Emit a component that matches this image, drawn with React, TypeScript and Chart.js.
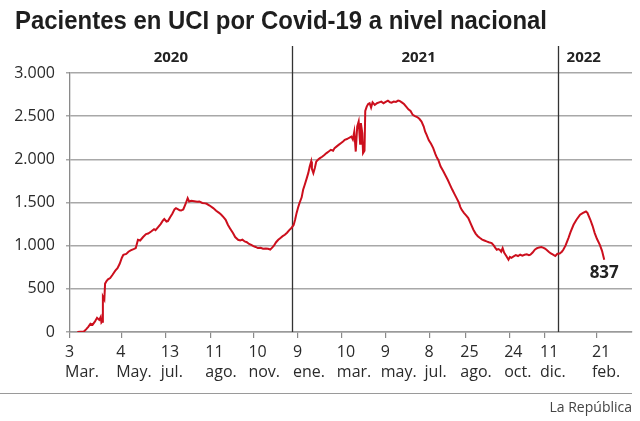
import React, { useEffect, useRef } from "react";
import { Chart, registerables } from "chart.js";

Chart.register(...registerables);

// Days counted from 3 March 2020 (day 0)
const days = [
  10, 14, 19, 22, 25, 28, 31, 34, 37, 40, 42, 43, 44, 45, 47, 48, 50, 52, 55, 58,
  62, 65, 68, 71, 73, 77, 80, 83, 87, 90, 93, 96, 100, 104, 107, 111, 115, 117, 120, 124,
  127, 129, 132, 134, 137, 140, 143, 145, 148, 150, 152, 155, 158, 161, 163, 166, 170, 174, 177, 181,
  185, 187, 191, 196, 200, 204, 207, 210, 213, 216, 219, 223, 226, 230, 233, 236, 239, 242, 245, 248,
  251, 254, 257, 261, 264, 268, 271, 274, 276, 279, 282, 285, 288, 291, 294, 297, 300, 303, 306, 308,
  310, 312, 314, 317, 319, 321, 324, 326, 328, 330, 331, 333, 335, 337, 340, 342, 345, 348, 351, 354,
  357, 360, 362, 365, 368, 371, 374, 376, 379, 382, 385, 387, 389, 391, 393, 395, 397, 398, 400, 401,
  403, 404, 406, 408, 410, 412, 414, 417, 420, 423, 426, 429, 432, 435, 438, 440, 443, 446, 449, 451,
  454, 457, 460, 463, 466, 469, 472, 475, 478, 481, 484, 486, 488, 491, 494, 497, 500, 502, 504, 507,
  511, 514, 517, 520, 523, 526, 529, 532, 534, 536, 539, 542, 545, 548, 552, 555, 558, 561, 564, 567,
  570, 573, 577, 580, 582, 584, 586, 588, 590, 592, 594, 597, 600, 602, 604, 607, 610, 613, 616, 619,
  622, 625, 628, 630, 633, 636, 639, 642, 645, 648, 650, 652, 655, 658, 661, 664, 667, 670, 673, 675,
  678, 682, 685, 689, 693, 698, 702, 706, 708, 712, 715, 718, 721, 725, 728, 731,
];

const icuPatients = [
  0, 2, 5, 30, 60, 96, 85, 120, 165, 140, 175, 110, 120, 410, 375, 560, 590, 610, 625, 660,
  710, 740, 790, 860, 895, 905, 930, 945, 960, 972, 1068, 1060, 1100, 1134, 1140, 1164, 1190, 1180, 1210, 1250,
  1290, 1308, 1280, 1285, 1330, 1370, 1420, 1435, 1420, 1410, 1407, 1420, 1480, 1551, 1512, 1520, 1515, 1508, 1512, 1495,
  1490, 1485, 1465, 1435, 1405, 1380, 1358, 1330, 1300, 1242, 1200, 1146, 1100, 1068, 1060, 1070, 1049, 1040, 1020, 1010,
  995, 985, 972, 975, 965, 968, 964, 955, 972, 1000, 1040, 1068, 1090, 1110, 1126, 1150, 1180, 1204, 1240, 1300,
  1377, 1440, 1493, 1560, 1647, 1700, 1782, 1840, 1917, 1975, 1890, 1840, 1900, 1975, 2000, 2014, 2030, 2050, 2072, 2090,
  2110, 2100, 2130, 2150, 2170, 2190, 2210, 2226, 2235, 2250, 2264, 2230, 2320, 2090, 2380, 2438, 2180, 2420, 2300, 2072,
  2100, 2560, 2611, 2640, 2650, 2600, 2660, 2630, 2650, 2660, 2669, 2650, 2665, 2680, 2660, 2657, 2670, 2665, 2680, 2677,
  2660, 2640, 2611, 2580, 2560, 2515, 2500, 2490, 2470, 2438, 2380, 2320, 2284, 2220, 2180, 2130, 2060, 2020, 1994, 1920,
  1859, 1810, 1760, 1705, 1650, 1600, 1551, 1500, 1450, 1415, 1380, 1350, 1319, 1260, 1184, 1140, 1110, 1088, 1070, 1060,
  1049, 1040, 1030, 1000, 975, 953, 960, 953, 930, 972, 920, 880, 837, 870, 860, 875, 890, 880, 895, 885,
  895, 900, 890, 895, 920, 953, 970, 980, 984, 975, 965, 953, 930, 910, 895, 880, 906, 910, 930, 953,
  1000, 1088, 1160, 1242, 1300, 1358, 1380, 1396, 1380, 1300, 1230, 1146, 1080, 1010, 940, 837,
];

const tickDays = [0, 70, 131, 192, 251, 312, 372, 432, 492, 541, 601, 650, 721];
const tickDayLabels = ["3", "4", "13", "11", "10", "9", "10", "9", "8", "25", "24", "11", "21"];
const tickMonthLabels = ["Mar.", "May.", "jul.", "ago.", "nov.", "ene.", "mar.", "may.", "jul.", "ago.", "oct.", "dic.", "feb."];

const yearLabels = ["2020", "2021", "2022"];
const yearLabelDays = [138, 477, 703];
const yearStartDays = [304, 668];

const yTicks = [0, 500, 1000, 1500, 2000, 2500, 3000];

const titleText = "Pacientes en UCI por Covid-19 a nivel nacional";
const sourceText = "La República";

const FONT = "'Open Sans', 'Noto Sans', sans-serif";
const RED = "#cc0f1d";

function fmt(n: number): string {
  return String(n).replace(/\B(?=(\d{3})+(?!\d))/g, ".");
}

const annotations = {
  id: "annotations",
  beforeDatasetsDraw(chart: any) {
    const { ctx, chartArea, scales } = chart;
    const x = scales.x;
    ctx.save();
    ctx.strokeStyle = "#333";
    ctx.lineWidth = 1.3;
    yearStartDays.forEach((d) => {
      const px = Math.round(x.getPixelForValue(d)) + 0.5;
      ctx.beginPath();
      ctx.moveTo(px, 46);
      ctx.lineTo(px, chartArea.bottom);
      ctx.stroke();
    });
    ctx.restore();
  },
  afterDraw(chart: any) {
    const { ctx, scales } = chart;
    const x = scales.x;
    const y = scales.y;
    ctx.save();
    // Title
    ctx.fillStyle = "#1e1e1e";
    ctx.font = "bold 25px 'Liberation Sans Narrow', 'Liberation Sans', sans-serif";
    ctx.textBaseline = "alphabetic";
    ctx.textAlign = "left";
    const w = ctx.measureText(titleText).width;
    const targetW = 532;
    ctx.save();
    ctx.translate(15, 28.5);
    ctx.scale(targetW / w, 1);
    ctx.fillText(titleText, 0, 0);
    ctx.restore();

    // Year labels
    ctx.font = "bold 15px " + FONT;
    ctx.textAlign = "center";
    ctx.textBaseline = "middle";
    ctx.fillStyle = "#222";
    yearLabels.forEach((t, i) => {
      ctx.fillText(t, x.getPixelForValue(yearLabelDays[i]), 58);
    });

    // Last value label
    const lastDay = days[days.length - 1];
    const lastVal = icuPatients[icuPatients.length - 1];
    ctx.font = "bold 17px " + FONT;
    ctx.fillStyle = "#222";
    ctx.textAlign = "center";
    ctx.fillText(String(lastVal), x.getPixelForValue(lastDay), y.getPixelForValue(lastVal) + 13);

    // Bottom rule and source
    ctx.strokeStyle = "#9a9a9a";
    ctx.lineWidth = 1;
    ctx.beginPath();
    ctx.moveTo(0, 393.5);
    ctx.lineTo(632, 393.5);
    ctx.stroke();
    ctx.font = "14px " + FONT;
    ctx.fillStyle = "#444";
    ctx.textAlign = "right";
    ctx.fillText(sourceText, 632, 408);
    ctx.restore();
  },
};

export default function App() {
  const ref = useRef<HTMLCanvasElement | null>(null);
  useEffect(() => {
    document.body.style.margin = "0";
    if (!ref.current) return;
    const chart = new Chart(ref.current, {
      type: "line",
      data: {
        labels: days,
        datasets: [
          {
            data: days.map((d, i) => ({ x: d, y: icuPatients[i] })),
            borderColor: RED,
            borderWidth: 2,
            pointRadius: 0,
            tension: 0,
            fill: false,
          },
        ],
      },
      options: {
        animation: false,
        responsive: true,
        maintainAspectRatio: false,
        layout: { padding: { top: 73, right: 8, left: 0, bottom: 0 } },
        plugins: { legend: { display: false }, tooltip: { enabled: false } },
        scales: {
          x: {
            type: "linear",
            min: 0,
            max: 769,
            afterFit(scale: any) {
              scale.height = 89;
            },
            afterBuildTicks(scale: any) {
              scale.ticks = tickDays.map((v) => ({ value: v }));
            },
            grid: {
              drawOnChartArea: false,
              drawTicks: true,
              tickLength: 6,
              color: "#8a8a8a",
              lineWidth: 1.2,
            },
            border: { display: true, color: "#9a9a9a", width: 1.5 },
            ticks: {
              autoSkip: false,
              maxRotation: 0,
              align: "start",
              labelOffset: -5,
              padding: 4,
              color: "#2a2a2a",
              font: { family: FONT, size: 16, lineHeight: 1.25 },
              callback: (_v: any, i: number) => [tickDayLabels[i], tickMonthLabels[i]],
            },
          },
          y: {
            min: 0,
            max: 3000,
            afterFit(scale: any) {
              scale.width = 70;
            },
            afterBuildTicks(scale: any) {
              scale.ticks = yTicks.map((v) => ({ value: v }));
            },
            grid: {
              color: "#a8a8a8",
              lineWidth: 1.5,
              drawTicks: true,
              tickLength: 4,
            },
            border: { display: true, color: "#8a8a8a", width: 1.3 },
            ticks: {
              padding: 11,
              color: "#2a2a2a",
              font: { family: FONT, size: 16 },
              callback: (v: any) => fmt(Number(v)),
            },
          },
        },
      },
      plugins: [annotations],
    });
    return () => chart.destroy();
  }, []);
  return (
    <div style={{ width: 640, height: 421, position: "relative", background: "#fff" }}>
      <canvas ref={ref} />
    </div>
  );
}
